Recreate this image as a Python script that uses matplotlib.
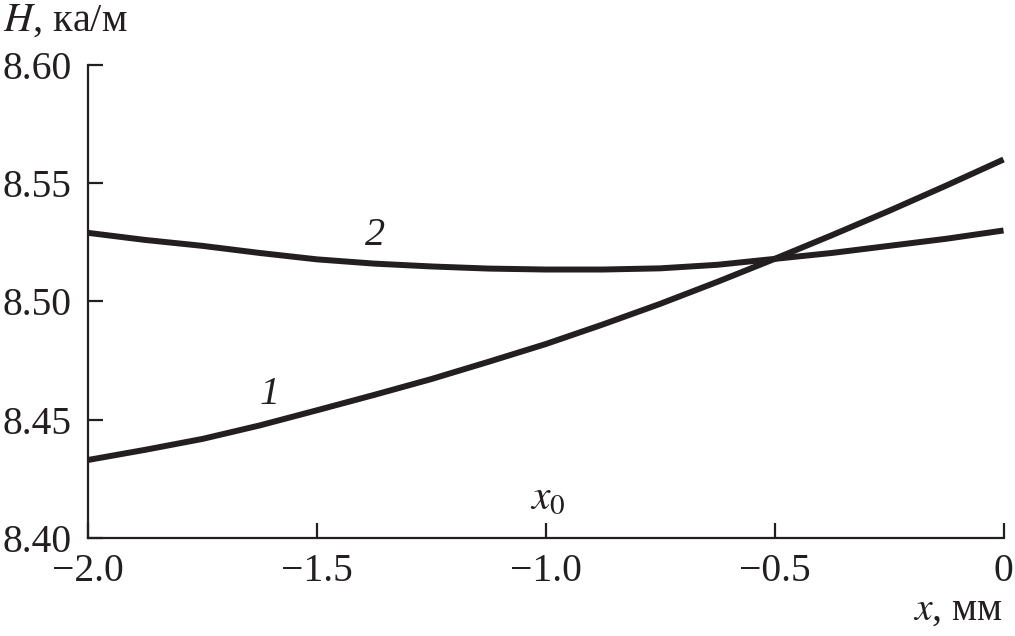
import matplotlib
matplotlib.use("Agg")
import matplotlib.pyplot as plt

plt.rcParams['font.family'] = ['Liberation Serif', 'DejaVu Serif']
plt.rcParams['mathtext.fontset'] = 'stix'

# values
x = [-2.0, -1.875, -1.75, -1.625, -1.5, -1.375, -1.25, -1.125, -1.0,
     -0.875, -0.75, -0.625, -0.5, -0.375, -0.25, -0.125, 0.0]
H1 = [8.433, 8.4373, 8.4419, 8.4476, 8.454, 8.4605, 8.4672, 8.4745, 8.482,
      8.4903, 8.499, 8.5083, 8.518, 8.528, 8.5383, 8.549, 8.560]
H2 = [8.529, 8.526, 8.5235, 8.5205, 8.5178, 8.516, 8.5148, 8.5139, 8.5135,
      8.5135, 8.514, 8.5155, 8.518, 8.5205, 8.5235, 8.5265, 8.530]

xticks = [-2.0, -1.5, -1.0, -0.5, 0.0]
xticklabels = ['\u22122.0', '\u22121.5', '\u22121.0', '\u22120.5', '0']
yticks = [8.40, 8.45, 8.50, 8.55, 8.60]
yticklabels = ['8.40', '8.45', '8.50', '8.55', '8.60']

fig = plt.figure(figsize=(10.15, 6.36), dpi=100)
ax = fig.add_axes([0.0867, 0.154, 0.902, 0.744])

ax.plot(x, H1, color='#231f20', lw=4.3, solid_capstyle='butt', clip_on=False)
ax.plot(x, H2, color='#231f20', lw=4.3, solid_capstyle='butt', clip_on=False)

ax.set_xlim(-2.0, 0.0)
ax.set_ylim(8.40, 8.60)

ax.spines['top'].set_visible(False)
ax.spines['right'].set_visible(False)
for s in ('left', 'bottom'):
    ax.spines[s].set_linewidth(1.6)
    ax.spines[s].set_color('#231f20')

ax.set_xticks(xticks)
ax.set_xticklabels(xticklabels)
ax.set_yticks(yticks)
ax.set_yticklabels(yticklabels)
ax.tick_params(direction='in', length=11, width=1.6, color='#231f20',
               labelsize=28.5, labelcolor='#231f20')
ax.tick_params(axis='x', pad=11)
ax.tick_params(axis='y', pad=12)

# curve labels
ax.text(-1.373, 8.5277, '2', fontsize=29, style='italic', ha='center', va='center', color='#231f20')
ax.text(-1.603, 8.4605, '1', fontsize=29, style='italic', ha='center', va='center', color='#231f20')
ax.text(-0.995, 8.417, '$x_0$', fontsize=30, ha='center', va='center', color='#231f20')

# axis titles
fig.text(0.003, 0.966, '$H$, ка/м', fontsize=29, ha='left', va='center', color='#231f20')
fig.text(0.988, 0.04, '$x$, мм', fontsize=28.5, ha='right', va='center', color='#231f20')

fig.savefig('out.png', dpi=100)
